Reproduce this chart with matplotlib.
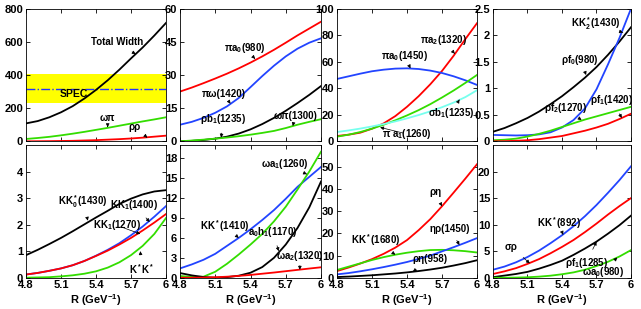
import matplotlib
matplotlib.use('Agg')
import matplotlib.pyplot as plt

# R grid (GeV^-1), values every 0.1
R = [4.8, 4.9, 5.0, 5.1, 5.2, 5.3, 5.4, 5.5, 5.6, 5.7, 5.8, 5.9, 6.0]

# panel (a)  widths in MeV
total_width = [108, 122, 145, 175, 212, 258, 310, 368, 432, 500, 566, 638, 714]
w_omega_pi = [14, 20, 27, 36, 46, 57, 69, 81, 94, 107, 120, 132, 145]
w_rho_rho = [0, 0.5, 1, 2, 3, 5, 7, 10, 13, 17, 22, 28, 34]
spec_low, spec_mid, spec_high = 233, 317, 406

# panel (b)
pi_a0_980 = [22.5, 24.3, 26.3, 28.4, 30.6, 33.0, 35.6, 38.4, 41.4, 44.6, 47.9, 51.0, 54.1]
pi_omega_1420 = [7.5, 8.8, 10.6, 12.9, 15.8, 19.6, 24.5, 29.5, 34.2, 38.4, 41.9, 44.6, 46.6]
rho_b1_1235 = [0, 0.2, 0.6, 1.2, 2.1, 3.5, 5.4, 7.8, 10.6, 13.8, 17.3, 21.0, 25.0]
omega_pi_1300 = [0, 0.35, 0.75, 1.2, 1.7, 2.3, 3.0, 3.8, 4.7, 6.0, 7.5, 8.8, 10.0]

# panel (c)
pi_a2_1320 = [4, 5, 6.5, 9.5, 13.5, 19, 26, 34, 43, 53, 64.5, 77, 89]
pi_a0_1450 = [47, 49, 51, 52.8, 54, 54.8, 55, 54.5, 53.3, 51.5, 49, 46, 42.5]
pi_a1_1260 = [3.5, 5, 7, 9.5, 12.5, 15.8, 19.5, 23.5, 28, 33, 38.3, 44, 50]
sigma_b1_1235 = [7, 8.2, 9.6, 11.2, 13, 15, 17.3, 19.8, 22.6, 25.7, 29.2, 33.3, 38.5]

# panel (d)
kk2_1430 = [0.18, 0.25, 0.34, 0.44, 0.56, 0.70, 0.85, 1.02, 1.20, 1.40, 1.63, 1.88, 2.15]
rho_f0_980 = [0.12, 0.115, 0.11, 0.115, 0.13, 0.17, 0.26, 0.40, 0.62, 0.98, 1.45, 1.95, 2.5]
rho_f2_1270 = [0.02, 0.03, 0.05, 0.09, 0.14, 0.20, 0.27, 0.34, 0.41, 0.47, 0.53, 0.59, 0.65]
rho_f1_1420 = [0, 0.003, 0.01, 0.02, 0.04, 0.07, 0.10, 0.15, 0.20, 0.26, 0.33, 0.42, 0.52]

# panel (e)
kk0_1430 = [0.85, 1.05, 1.27, 1.5, 1.75, 2.01, 2.27, 2.52, 2.78, 2.98, 3.14, 3.25, 3.3]
kk1_1400 = [0.12, 0.18, 0.26, 0.35, 0.47, 0.63, 0.83, 1.05, 1.3, 1.6, 1.93, 2.3, 2.7]
kk1_1270 = [0.12, 0.18, 0.26, 0.35, 0.47, 0.63, 0.82, 1.02, 1.25, 1.5, 1.78, 2.08, 2.4]
kstar_kstar = [0.0, 0.01, 0.02, 0.05, 0.09, 0.15, 0.24, 0.38, 0.58, 0.85, 1.2, 1.65, 2.25]

# panel (f)
kk_1410 = [1.4, 2.0, 2.7, 3.6, 4.8, 6.0, 7.3, 8.7, 10.2, 11.9, 13.7, 15.2, 16.7]
omega_a1_1260 = [0.25, 0.12, 0.15, 0.9, 2.1, 3.5, 5.0, 6.6, 8.5, 10.7, 13.3, 16.0, 19.0]
a0_h1_1170 = [0.7, 0.35, 0.1, 0.0, 0.08, 0.3, 0.75, 1.6, 3.0, 5.0, 7.5, 10.6, 14.5]
omega_a2_1320 = [0, 0, 0.02, 0.07, 0.15, 0.27, 0.42, 0.6, 0.78, 0.98, 1.18, 1.38, 1.57]

# panel (g)
rho_eta = [3, 4.6, 6.4, 8.4, 10.8, 13.6, 17, 21.5, 26.5, 32.3, 38.5, 44.8, 51.3]
kk_1680 = [3.5, 5, 6.5, 8, 9.3, 10.4, 11.3, 12, 12.5, 12.6, 12.4, 12, 11.4]
eta_rho_1450 = [1.5, 2.1, 2.9, 3.8, 4.8, 5.9, 7.1, 8.5, 10, 11.9, 13.8, 15.8, 17.9]
rho_eta_958 = [0.3, 0.5, 0.8, 1.1, 1.5, 1.9, 2.4, 3.0, 3.7, 4.5, 5.5, 6.6, 7.9]

# panel (h)
kk_892 = [1.5, 2.1, 2.9, 3.9, 5.1, 6.5, 8.0, 9.7, 11.6, 13.7, 16.0, 18.4, 21]
sigma_rho = [0.7, 1.2, 1.8, 2.6, 3.5, 4.6, 5.8, 7.1, 8.6, 10.2, 11.9, 13.5, 15]
rho_f1_1285 = [0.1, 0.4, 0.7, 1.1, 1.7, 2.4, 3.2, 4.3, 5.5, 6.8, 8.3, 9.9, 11.7]
omega_a0_980 = [0, 0, 0.02, 0.08, 0.2, 0.38, 0.65, 1.0, 1.5, 2.2, 3.0, 4.0, 5.2]

RED, BLUE, GREEN, BLACK, CYAN = '#ff0000', '#2244ff', '#33dd00', '#000000', '#77ffee'

plt.rcParams['font.family'] = ['Liberation Sans', 'DejaVu Sans']
plt.rcParams['font.weight'] = 'bold'
plt.rcParams['mathtext.fontset'] = 'custom'
plt.rcParams['mathtext.rm'] = 'Liberation Sans:bold'
plt.rcParams['mathtext.bf'] = 'Liberation Sans:bold'
plt.rcParams['mathtext.it'] = 'Liberation Sans:bold'
plt.rcParams['mathtext.default'] = 'bf'

fig = plt.figure(figsize=(6.41, 3.09), dpi=100)

lefts = [0.0406, 0.2808, 0.5257, 0.7691]
widths = [0.2184, 0.2200, 0.2184, 0.2153]
bottoms = [0.5427, 0.1013]
height = 0.4293

panels = [
    dict(curves=[(total_width, BLACK), (w_omega_pi, GREEN), (w_rho_rho, RED)],
         ylim=800, yticks=[0, 200, 400, 600, 800],
         notes=[('Total Width', (5.58, 600), (5.74, 525)),
                ('ωπ', (5.5, 139), (5.5, 85)),
                ('ρρ', (5.73, 88), (5.84, 22))]),
    dict(curves=[(pi_a0_980, RED), (pi_omega_1420, BLUE), (rho_b1_1235, BLACK), (omega_pi_1300, GREEN)],
         ylim=60, yticks=[0, 15, 30, 45, 60],
         notes=[('πa$_0$(980)', (5.35, 42), (5.44, 37.3)),
                ('πω(1420)', (5.17, 21.4), (5.23, 17.0)),
                ('ρb$_1$(1235)', (5.17, 10), (5.15, 1.7)),
                ('ωπ(1300)', (5.78, 11.4), (5.76, 6.9))]),
    dict(curves=[(pi_a2_1320, RED), (pi_a0_1450, BLUE), (pi_a1_1260, GREEN), (sigma_b1_1235, CYAN)],
         ylim=100, yticks=[0, 20, 40, 60, 80, 100],
         notes=[('πa$_2$(1320)', (5.71, 76), (5.81, 66)),
                ('πa$_0$(1450)', (5.38, 64), (5.43, 55)),
                ('σb$_1$(1235)', (5.78, 21), (5.85, 31.5)),
                ('π a$_1$(1260)', (5.40, 5.5), (5.17, 10.5))]),
    dict(curves=[(kk2_1430, BLACK), (rho_f0_980, BLUE), (rho_f2_1270, GREEN), (rho_f1_1420, RED)],
         ylim=2.5, yticks=[0, 0.5, 1, 1.5, 2, 2.5],
         notes=[('KK$^*_2$(1430)', (5.69, 2.21), (5.93, 2.05)),
                ('ρf$_0$(980)', (5.56, 1.53), (5.61, 1.25)),
                ('ρf$_2$(1270)', (5.43, 0.62), (5.57, 0.40)),
                ('ρf$_1$(1420)', (5.83, 0.77), (5.92, 0.44))]),
    dict(curves=[(kk0_1430, BLACK), (kk1_1400, BLUE), (kk1_1270, RED), (kstar_kstar, GREEN)],
         ylim=5, yticks=[0, 1, 2, 3, 4],
         notes=[('KK$^*_0$(1430)', (5.29, 2.85), (5.33, 2.15)),
                ('KK$_1$(1400)', (5.73, 2.74), (5.86, 2.1)),
                ('KK$_1$(1270)', (5.58, 1.97), (5.78, 1.65)),
                ('K$^*$K$^*$', (5.79, 0.34), (5.78, 1.0))]),
    dict(curves=[(kk_1410, BLUE), (omega_a1_1260, GREEN), (a0_h1_1170, BLACK), (omega_a2_1320, RED)],
         ylim=20, yticks=[0, 3, 6, 9, 12, 15, 18],
         notes=[('ωa$_1$(1260)', (5.69, 17.1), (5.88, 15.6)),
                ('KK$^*$(1410)', (5.18, 7.8), (5.30, 6.0)),
                ('a$_0$h$_1$(1170)', (5.59, 6.9), (5.64, 4.0)),
                ('ωa$_2$(1320)', (5.82, 3.3), (5.82, 1.2))]),
    dict(curves=[(rho_eta, RED), (kk_1680, GREEN), (eta_rho_1450, BLUE), (rho_eta_958, BLACK)],
         ylim=60, yticks=[0, 10, 20, 30, 40, 50],
         notes=[('ρη', (5.64, 38.7), (5.70, 32.3)),
                ('ηρ(1450)', (5.77, 22), (5.85, 14.8)),
                ('KK$^*$(1680)', (5.13, 17), (5.30, 10.4)),
                ('ρη(958)', (5.60, 8.4), (5.45, 2.7))]),
    dict(curves=[(kk_892, BLUE), (sigma_rho, RED), (rho_f1_1285, BLACK), (omega_a0_980, GREEN)],
         ylim=25, yticks=[0, 5, 10, 15, 20],
         notes=[('KK$^*$(892)', (5.37, 10.2), (5.41, 8.1)),
                ('σρ', (4.96, 5.8), (5.12, 2.7)),
                ('ρf$_1$(1285)', (5.61, 2.8), (5.70, 6.8)),
                ('ωa$_0$(980)', (5.76, 1.1), (5.88, 3.8))]),
]

for i, p in enumerate(panels):
    row, col = divmod(i, 4)
    ax = fig.add_axes([lefts[col], bottoms[row], widths[col], height])
    if i == 0:
        ax.axhspan(spec_low, spec_high, color='#ffff00', lw=0, zorder=0)
        ax.axhline(spec_mid, color='#2233ff', ls='-.', lw=1.0, zorder=1)
        ax.text(5.21, 283, 'SPEC', fontsize=7.5, fontweight='bold', ha='center', va='center')
    for ys, c in p['curves']:
        ax.plot(R, ys, color=c, lw=1.3)
    for txt, xy_text, xy in p['notes']:
        ax.annotate(txt, xy=xy, xytext=xy_text, fontsize=7, fontweight='bold',
                    ha='center', va='center',
                    arrowprops=dict(arrowstyle='-|>', color='k', lw=0.5,
                                    mutation_scale=5, shrinkA=3, shrinkB=0))
    ax.set_xlim(4.8, 6.0)
    ax.set_ylim(0, p['ylim'])
    ax.set_xticks([4.8, 5.1, 5.4, 5.7, 6.0])
    ax.set_yticks(p['yticks'])
    ax.set_yticklabels([('%g' % v) for v in p['yticks']])
    ax.tick_params(direction='in', top=True, right=True, labelsize=8, length=3, pad=2, width=0.6)
    for s in ax.spines.values():
        s.set_linewidth(0.6)
    if row == 0:
        ax.set_xticklabels([])
    else:
        ax.set_xticklabels(['4.8', '5.1', '5.4', '5.7', '6'])
        ax.set_xlabel('R (GeV$^{-1}$)', fontsize=8, fontweight='bold', labelpad=1)
    for lab in ax.get_xticklabels() + ax.get_yticklabels():
        lab.set_fontweight('bold')

fig.savefig('out.png', dpi=100)
